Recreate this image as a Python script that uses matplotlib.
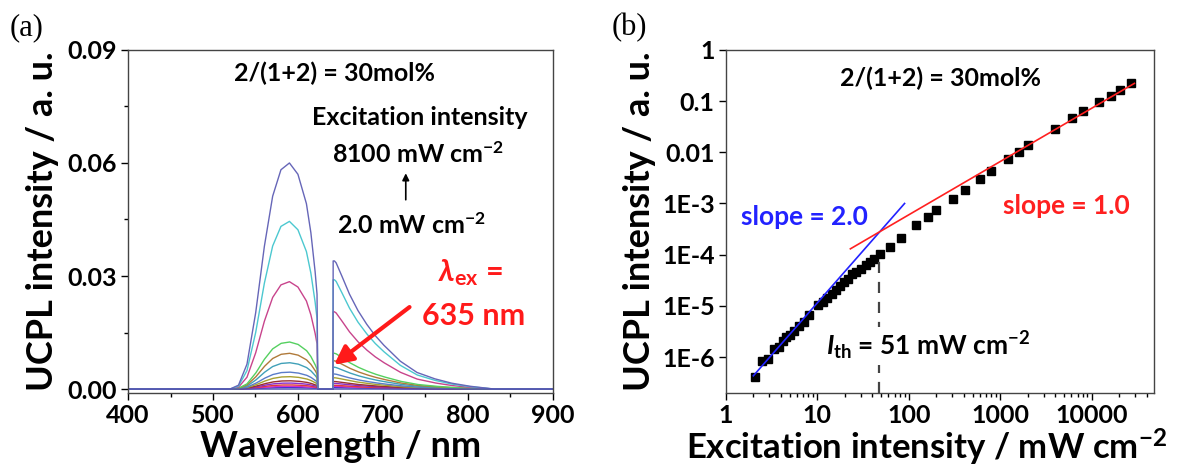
import numpy as np
import matplotlib
matplotlib.use('Agg')
import matplotlib.pyplot as plt
from matplotlib.ticker import FixedLocator, FixedFormatter, MultipleLocator, LogLocator, NullFormatter

### Data ###

# (a) spectra: normalised shape of the strongest spectrum, hump and tail part
hump_wl = [400, 520, 530, 540, 550, 560, 570, 580, 590, 600, 610, 615, 620, 622.5, 623.5, 640.5]
hump_shape = [0.0, 0.0, 0.017, 0.11, 0.33, 0.62, 0.85, 0.97, 1.0, 0.95, 0.82, 0.70, 0.53, 0.42, 0.0, 0.0]
tail_wl = [641.5, 643, 645, 650, 660, 670, 680, 690, 700, 720, 740, 760, 780, 800, 830, 900]
tail_shape = [1.0, 1.0, 0.985, 0.91, 0.75, 0.62, 0.515, 0.425, 0.35, 0.22, 0.13, 0.082, 0.047, 0.024, 0.0, 0.0]

# peak heights of every spectrum (hump near 590 nm, spike near 643 nm)
hump_peaks = [0.0600, 0.0445, 0.0285, 0.0125, 0.0095, 0.0070, 0.0045, 0.0033,
              0.0022, 0.0016, 0.0011, 0.0007, 0.0004]
spike_peaks = [0.0340, 0.0290, 0.0205, 0.0095, 0.0075, 0.0058, 0.0040, 0.0030,
               0.0020, 0.0015, 0.0010, 0.0007, 0.0004]
curve_colors = ['#6666b8', '#4cc8d0', '#c8448c', '#55d060', '#b07a3a', '#40a0b8', '#5a7cc8',
                '#a8a030', '#9a2f2f', '#8a2cc8', '#e03838', '#d030c8', '#3030d8']

# (b) power dependence
ex_power = [2.07, 2.5, 2.88, 3.35, 3.8, 4.2, 4.57, 5.05, 5.53, 6.37, 7.1, 8.05, 10.3, 11.6,
            12.9, 14.4, 16.0, 17.8, 19.6, 21.9, 24.2, 26.8, 29.8, 33.8, 37.4, 41.7, 49, 62,
            83, 121, 162, 200, 308, 410, 600, 800, 1210, 1610, 2000, 3980, 6030, 7950,
            12100, 16100, 20300, 26600]
ucpl = [4.0e-7, 8.3e-7, 9.1e-7, 1.44e-6, 1.6e-6, 2.1e-6, 2.45e-6, 2.7e-6, 3.2e-6, 4.0e-6,
        4.9e-6, 6.5e-6, 1.02e-5, 1.18e-5, 1.4e-5, 1.73e-5, 2.05e-5, 2.44e-5, 2.9e-5, 3.4e-5,
        4.1e-5, 4.6e-5, 5.3e-5, 6.2e-5, 7.2e-5, 8.3e-5, 1.05e-4, 1.4e-4, 2.1e-4, 3.8e-4,
        5.4e-4, 7.6e-4, 1.24e-3, 1.85e-3, 3.0e-3, 4.25e-3, 7.3e-3, 1.02e-2, 1.38e-2, 2.9e-2,
        4.7e-2, 6.3e-2, 9.7e-2, 0.127, 0.164, 0.222]

# fitted lines (end points) and threshold
fit_low_x = [2.0, 90]
fit_low_y = [4.3e-7, 1.0e-3]
fit_high_x = [23, 29300]
fit_high_y = [1.3e-4, 0.222]
ith_x = 47
ith_top = 1.0e-4

b_yticks = [1, 0.1, 0.01, 1e-3, 1e-4, 1e-5, 1e-6]
b_ylabels = ['1', '0.1', '0.01', '1E-3', '1E-4', '1E-5', '1E-6']
b_xticks = [1, 10, 100, 1000, 10000]
b_xlabels = ['1', '10', '100', '1000', '10000']

### Style ###

plt.rcParams['font.family'] = ['Lato', 'DejaVu Sans']
plt.rcParams['font.weight'] = 'bold'
plt.rcParams['mathtext.fontset'] = 'custom'
plt.rcParams['mathtext.rm'] = 'Lato:bold'
plt.rcParams['mathtext.bf'] = 'Lato:bold'
plt.rcParams['mathtext.it'] = 'Lato:bold:italic'
plt.rcParams['axes.edgecolor'] = '#444444'
plt.rcParams['axes.linewidth'] = 1.0

fig = plt.figure(figsize=(11.86, 4.71), dpi=100)
ax1 = fig.add_axes([0.108, 0.166, 0.358, 0.728])
ax2 = fig.add_axes([0.612, 0.166, 0.361, 0.728])

### (a) spectra ###
wl = np.linspace(400, 900, 2001)
hump_i = np.interp(wl, hump_wl, hump_shape)
tail_i = np.interp(wl, tail_wl, tail_shape, left=0.0)
tail_i[wl < 641] = 0.0
for hp, sp, c in zip(hump_peaks[::-1], spike_peaks[::-1], curve_colors[::-1]):
    ax1.plot(wl, hp * hump_i + sp * tail_i, color=c, lw=1.0)
ax1.plot(wl, 0 * wl, color='#5050b0', lw=1.0)

ax1.set_xlim(400, 900)
ax1.set_ylim(-0.001, 0.09)
ax1.xaxis.set_major_locator(MultipleLocator(100))
ax1.xaxis.set_minor_locator(MultipleLocator(50))
ax1.yaxis.set_major_locator(MultipleLocator(0.03))
ax1.yaxis.set_minor_locator(MultipleLocator(0.015))
ax1.yaxis.set_major_formatter(matplotlib.ticker.FormatStrFormatter('%.2f'))
ax1.set_xlabel('Wavelength / nm', fontsize=26, fontweight='bold', labelpad=2)
ax1.set_ylabel('UCPL intensity / a. u.', fontsize=26, fontweight='bold', labelpad=6)

ax1.text(643, 0.0838, '2/(1+2) = 30mol%', fontsize=18, ha='center', va='center')
ax1.text(743, 0.0721, 'Excitation intensity', fontsize=18, ha='center', va='center')
ax1.text(741, 0.0623, '8100 mW cm$^{\u22122}$', fontsize=18, ha='center', va='center')
ax1.annotate('', xy=(727, 0.058), xytext=(727, 0.0495),
             arrowprops=dict(arrowstyle='-|>', color='black', lw=1.2, mutation_scale=10))
ax1.text(734, 0.0436, '2.0 mW cm$^{\u22122}$', fontsize=18, ha='center', va='center')
ax1.text(803, 0.031, '$\\lambda_{\\rm ex}$ =', fontsize=22, ha='center', va='center', color='#ff1a1a')
ax1.text(807, 0.0195, '635 nm', fontsize=22, ha='center', va='center', color='#ff1a1a')
ax1.annotate('', xy=(640, 0.006), xytext=(734, 0.0222),
             arrowprops=dict(arrowstyle='-|>', color='#ff1a1a', lw=3, mutation_scale=28))

### (b) power dependence ###
ax2.plot(ex_power, ucpl, 's', color='black', ms=6)
ax2.plot(fit_low_x, fit_low_y, color='#2222ff', lw=1.2)
ax2.plot(fit_high_x, fit_high_y, color='#ff2020', lw=1.2)
ax2.plot([ith_x, ith_x], [2e-7, ith_top], color='#444444', lw=1.6, ls=(0, (5, 4)))
ax2.set_xscale('log')
ax2.set_yscale('log')
ax2.set_xlim(1, 48000)
ax2.set_ylim(2e-7, 1)
ax2.yaxis.set_major_locator(FixedLocator(b_yticks))
ax2.yaxis.set_major_formatter(FixedFormatter(b_ylabels))
ax2.xaxis.set_major_locator(FixedLocator(b_xticks))
ax2.xaxis.set_major_formatter(FixedFormatter(b_xlabels))
ax2.xaxis.set_minor_locator(LogLocator(base=10, subs=np.arange(2, 10)))
ax2.yaxis.set_minor_locator(LogLocator(base=10, subs=np.arange(2, 10)))
ax2.xaxis.set_minor_formatter(NullFormatter())
ax2.yaxis.set_minor_formatter(NullFormatter())
ax2.set_xlabel('Excitation intensity / mW cm$^{\u22122}$', fontsize=25, fontweight='bold', labelpad=0)
ax2.xaxis.set_label_coords(0.47, -0.1)
ax2.set_ylabel('UCPL intensity / a. u.', fontsize=26, fontweight='bold', labelpad=4)

ax2.text(220, 0.278, '2/(1+2) = 30mol%', fontsize=18, ha='center', va='center',
         bbox=dict(fc='white', ec='none', pad=2))
ax2.text(7.3, 5.4e-4, 'slope = 2.0', fontsize=19, ha='center', va='center', color='#2222ff')
ax2.text(5300, 9.1e-4, 'slope = 1.0', fontsize=19, ha='center', va='center', color='#ff2020')
ax2.text(165, 1.65e-6, '$I_{\\rm th}$ = 51 mW cm$^{\u22122}$', fontsize=19, ha='center', va='center',
         bbox=dict(fc='white', ec='none', pad=2))

for ax in (ax1, ax2):
    ax.tick_params(which='major', direction='out', length=5, width=1, labelsize=18,
                   top=False, right=False, pad=3)
    ax.tick_params(which='minor', direction='out', length=3, width=1, top=False, right=False)
    for lab in ax.get_xticklabels() + ax.get_yticklabels():
        lab.set_fontweight('bold')

fig.text(0.008, 0.925, '(a)', fontsize=22, family='Liberation Serif', fontweight='normal')
fig.text(0.516, 0.925, '(b)', fontsize=22, family='Liberation Serif', fontweight='normal')

plt.savefig('out.png', dpi=100)
